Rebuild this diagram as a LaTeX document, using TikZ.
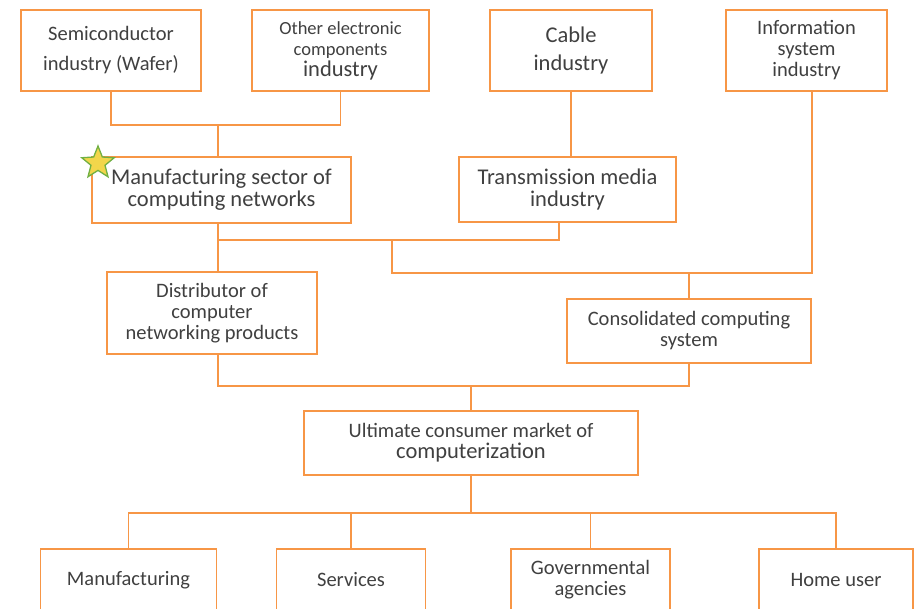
\documentclass[tikz,border=0pt]{standalone}
\usepackage{fontspec}
\setmainfont{Carlito}
\usetikzlibrary{shapes.geometric}
\definecolor{boxorange}{HTML}{F79646}
\definecolor{textgrey}{HTML}{404040}
\definecolor{staryellow}{HTML}{F2D64B}
\definecolor{stargreen}{HTML}{71B043}
\newcommand\smalltxt{\fontsize{20.5}{21}\selectfont}
\newcommand\bigtxt{\fontsize{22.5}{22}\selectfont}
\begin{document}
\begin{tikzpicture}[x=1pt,y=-1pt,
  box/.style={draw=boxorange, line width=1.6pt, fill=white, align=center,
    text=textgrey, inner sep=2pt, font=\smalltxt},
  link/.style={draw=boxorange, line width=1.6pt}]
\useasboundingbox (0,0) rectangle (919,609);
\clip (0,0) rectangle (919,609);
% top row
\node[box, minimum width=180, minimum height=81, font=\fontsize{20.5}{30}\selectfont] (semi) at (111,50.5) {Semiconductor\\industry (Wafer)};
\node[box, minimum width=177, minimum height=81, font=\fontsize{18.5}{21}\selectfont] (other) at (340.5,50.5) {Other electronic\\components\\{\bigtxt industry}};
\node[box, minimum width=162, minimum height=81, font=\fontsize{22.5}{28}\selectfont] (cable) at (571,50.5) {Cable\\industry};
\node[box, minimum width=161, minimum height=81] (info) at (806.5,50.5) {Information\\system\\industry};
% second row
\node[box, minimum width=259, minimum height=66, font=\bigtxt] (manu) at (221.5,190) {Manufacturing sector of\\computing networks};
\node[box, minimum width=217, minimum height=65, font=\bigtxt] (trans) at (567.5,189.5) {Transmission media\\industry};
\node[star, star points=5, star point ratio=2.3, minimum size=34, fill=staryellow, draw=stargreen, line width=1.3pt, inner sep=0pt] (badge) at (98,163) {};
% third row
\node[box, minimum width=210, minimum height=82] (dist) at (212,313) {Distributor of\\computer\\networking products};
\node[box, minimum width=244, minimum height=64] (cons) at (689,331) {Consolidated computing\\system};
\node[box, minimum width=334, minimum height=64] (ult) at (471,443) {Ultimate consumer market of\\{\bigtxt computerization}};
% consumers
\node[box, minimum width=176, minimum height=62] (mfg) at (128.5,580) {Manufacturing};
\node[box, minimum width=149, minimum height=62] (serv) at (351,580) {Services};
\node[box, minimum width=159, minimum height=62] (gov) at (590.5,580) {Governmental\\agencies};
\node[box, minimum width=154, minimum height=62] (home) at (836,580) {Home user};
% junctions
\coordinate (j1) at (218,125);
\coordinate (j2) at (218,240);
\coordinate (j3) at (559,240);
\coordinate (j4) at (392,240);
\coordinate (j5) at (812,273);
\coordinate (j6) at (689,273);
\coordinate (j7) at (218,386);
\coordinate (j8) at (471,386);
\coordinate (j9) at (471,513);
% links
\draw[link] (semi.south) |- (other.south |- j1) -- (other.south);
\draw[link] (j1) -- (j1 |- manu.north);
\draw[link] (cable.south) -- (cable.south |- trans.north);
\draw[link] (j2 |- manu.south) -- (j2) -- (j3) -- (j3 |- trans.south);
\draw[link] (j2) -- (j2 |- dist.north);
\draw[link] (j4) |- (j5) -- (j5 |- info.south);
\draw[link] (j6) -- (cons.north);
\draw[link] (j7 |- dist.south) -- (j7) -| (cons.south);
\draw[link] (j8) -- (ult.north);
\draw[link] (ult.south) -- (j9);
\draw[link] (mfg.north) |- (home.north |- j9) -- (home.north);
\draw[link] (j9 -| serv.north) -- (serv.north);
\draw[link] (j9 -| gov.north) -- (gov.north);
\end{tikzpicture}
\end{document}
